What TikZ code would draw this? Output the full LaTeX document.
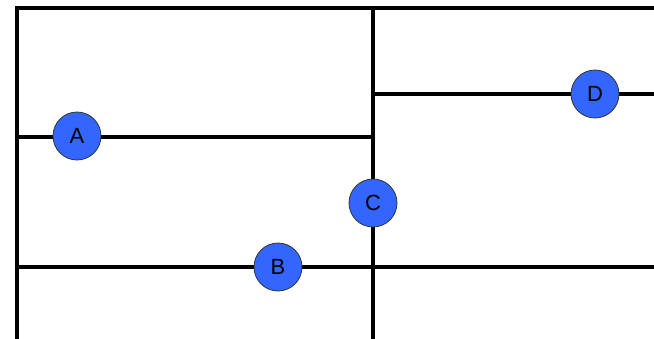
\documentclass[tikz,border=0pt]{standalone}
\usepackage{fontspec}
\setmainfont{Liberation Sans}
\usetikzlibrary{positioning}
\definecolor{pointblue}{RGB}{51,102,255}

\begin{document}
\begin{tikzpicture}[x=1pt,y=-1pt,every node/.style={font=\fontsize{22}{24}\selectfont},
  wall/.style={line width=3.5pt,line cap=rect},
  point/.style={circle,draw=black!80,line width=.8pt,fill=pointblue,minimum size=48pt,inner sep=0pt}]
\useasboundingbox (0,0) rectangle (654,338);
\fill[white] (0,0) rectangle (654,338);
\coordinate (tl) at (17,8);
\coordinate (tr) at (656,8);
\coordinate (bl) at (17,340);
\coordinate (mt) at (373,8);
\coordinate (mb) at (373,340);
\coordinate (am) at (373,137);
\coordinate (dl) at (373,94);
\coordinate (dr) at (656,94);
\coordinate (bl2) at (17,267);
\coordinate (br) at (656,267);
\coordinate (al) at (17,137);
\draw[wall] (tr)--(tl)--(bl);
\draw[wall] (mt)--(mb);
\draw[wall] (al)--(am);
\draw[wall] (dl)--(dr);
\draw[wall] (bl2)--(br);
\node[point] (A) at (77,136) {A};
\node[point] (B) at (278,267) {B};
\node[point] (C) at (373,203) {C};
\node[point] (D) at (595,94) {D};
\end{tikzpicture}
\end{document}
